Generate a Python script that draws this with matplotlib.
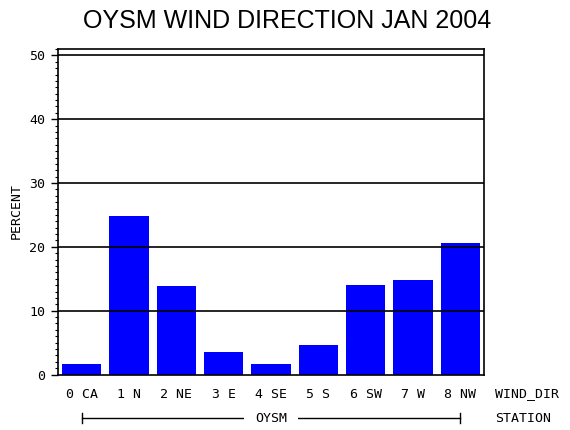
import matplotlib
matplotlib.use("Agg")
import matplotlib.pyplot as plt
from matplotlib.transforms import blended_transform_factory
from matplotlib.ticker import MultipleLocator

title = "OYSM WIND DIRECTION JAN 2004"
categories = ["0 CA", "1 N", "2 NE", "3 E", "4 SE", "5 S", "6 SW", "7 W", "8 NW"]
percent = [1.6, 24.9, 13.8, 3.6, 1.7, 4.7, 14.1, 14.8, 20.6]
station = "OYSM"
ylabel = "PERCENT"
xvar_label = "WIND_DIR"
group_label = "STATION"

mono = "DejaVu Sans Mono"
fs = 9.5

fig = plt.figure(figsize=(5.7, 4.3), dpi=100)
ax = fig.add_axes([58/570, 1 - 374.5/430, (484-58)/570, (374.5-49)/430])

x = list(range(len(categories)))
ax.bar(x, percent, width=0.83, color="#0000ff", zorder=1)
ax.set_xlim(-0.5, len(categories) - 0.5)
ax.set_ylim(0, 51)

for v in range(10, 51, 10):
    ax.axhline(v, color="black", lw=1.2, zorder=3)

ax.yaxis.set_major_locator(MultipleLocator(10))
ax.yaxis.set_minor_locator(MultipleLocator(1))
ax.tick_params(axis="y", which="major", direction="out", length=5, width=1, pad=4,
               labelsize=fs)
ax.tick_params(axis="y", which="minor", direction="out", length=2, width=0.8)
for lab in ax.get_yticklabels():
    lab.set_family(mono)
ax.set_xticks([])
for s in ax.spines.values():
    s.set_linewidth(1.2)

fig.text(16/570, 1 - 211/430, ylabel, rotation=90, ha="center", va="center",
         family=mono, fontsize=fs)

# category labels
trans = blended_transform_factory(ax.transData, fig.transFigure)
for xi, c in zip(x, categories):
    ax.text(xi, 1 - 394/430, c, transform=trans, ha="center", va="center",
            family=mono, fontsize=fs)

# station bracket
yb = 1 - 418/430
ax.plot([x[0], x[-1]], [yb, yb], transform=trans, color="black", lw=1,
        clip_on=False)
for xe in (x[0], x[-1]):
    ax.plot([xe, xe], [yb - 5/430, yb + 5/430], transform=trans, color="black",
            lw=1, clip_on=False)
ax.text((x[0] + x[-1]) / 2, yb, station, transform=trans, ha="center",
        va="center", family=mono, fontsize=fs,
        bbox=dict(facecolor="white", edgecolor="none", pad=8))

fig.text(495/570, 1 - 394/430, xvar_label, ha="left", va="center",
         family=mono, fontsize=fs)
fig.text(495/570, yb, group_label, ha="left", va="center",
         family=mono, fontsize=fs)

fig.text(287/570, 1 - 21/430, title, ha="center", va="center",
         family="Liberation Sans", fontsize=18)

fig.savefig("out.png", dpi=100)
